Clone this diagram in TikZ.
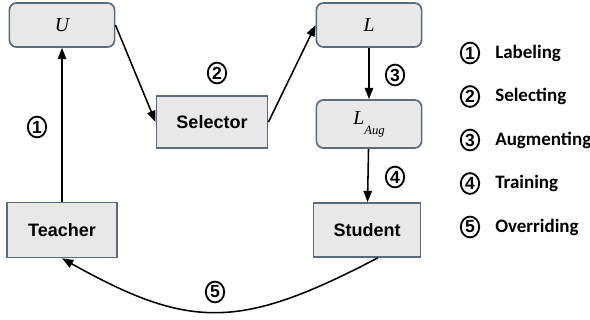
\documentclass[tikz,border=0pt]{standalone}
\usepackage{fontspec}
\setmainfont{Liberation Serif}
\newfontfamily\boxfont{Liberation Sans}
\newfontfamily\legendfont{Carlito}
\usetikzlibrary{arrows.meta, shapes.geometric}
\definecolor{boxfill}{RGB}{232,232,232}
\definecolor{boxline}{RGB}{92,106,124}

\begin{document}
\begin{tikzpicture}[x=0.025cm, y=-0.025cm,
    block/.style={draw=boxline, fill=boxfill, line width=1.2pt, inner sep=0pt,
        font=\boxfont\bfseries\fontsize{12.8}{15}\selectfont},
    set/.style={block, rounded corners=5pt, minimum width=2.63cm,
        font=\fontsize{14}{16}\selectfont\itshape},
    num/.style={ellipse, draw, line width=1.3pt, inner sep=0pt,
        minimum width=0.46cm, minimum height=0.52cm,
        font=\boxfont\bfseries\fontsize{12.5}{14}\selectfont},
    flow/.style={-{Triangle[length=8pt,width=6pt]}, line width=1.1pt}]
    \useasboundingbox (0,0) rectangle (590,320);

    % Data sets
    \node[set, minimum height=1.1cm] (U) at (62,25) {U};
    \node[set, minimum height=1.1cm] (L) at (369,25) {L};
    \node[set, minimum height=1.2cm] (LAug) at (369,124)
        {L\raisebox{-1.1ex}{\fontsize{9}{10}\selectfont Aug}};

    % Models and selector
    \node[block, minimum width=2.78cm, minimum height=1.3cm] (sel) at (212,122) {Selector};
    \node[block, minimum width=2.75cm, minimum height=1.375cm] (teacher) at (62,230) {Teacher};
    \node[block, minimum width=2.68cm, minimum height=1.35cm] (student) at (367,230) {Student};

    % Flow
    \draw[flow] (teacher) -- (U);
    \draw[flow] (U.east) -- (sel.west);
    \draw[flow] (sel.east) -- (L.west);
    \draw[flow] (L) -- (LAug);
    \draw[flow] (LAug) -- (student);
    \draw[flow] ([xshift=0.27cm]student.south) .. controls (240,330) and (190,330) .. (teacher.south);

    % Step numbers
    \node[num] (s1) at (37,127) {1};
    \node[num] (s2) at (217,73) {2};
    \node[num] (s3) at (395,75) {3};
    \node[num] (s4) at (395,177) {4};
    \node[num] (s5) at (215,292) {5};

    % Legend
    \foreach \i/\txt in {1/Labeling, 2/Selecting, 3/Augmenting, 4/Training, 5/Overriding} {
        \pgfmathsetmacro{\ky}{53+43.5*(\i-1)}
        \node[num] (key\i) at (470,\ky) {\i};
        \node[anchor=west, inner sep=0pt, font=\legendfont\bfseries\fontsize{13.5}{15}\selectfont]
            (keytext\i) at (495,\ky) {\txt};
    }
\end{tikzpicture}
\end{document}
